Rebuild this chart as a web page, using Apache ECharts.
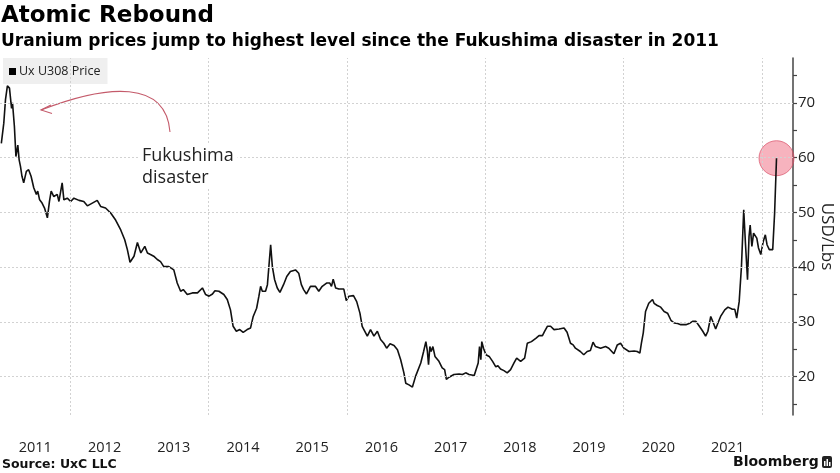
<!DOCTYPE html>
<html>
<head>
<meta charset="utf-8">
<script src="https://cdn.jsdelivr.net/npm/echarts@6/dist/echarts.min.js"></script>
<style>html,body{margin:0;padding:0;background:#fff}#c{width:840px;height:473px}</style>
</head>
<body>
<div id="c"></div>
<script>
// ---- data ----
const dates = [
'2011-01-04','2011-01-17','2011-01-26','2011-02-05','2011-02-16','2011-02-27','2011-03-04','2011-03-14','2011-03-22','2011-04-01',
'2011-04-08','2011-04-15','2011-04-23','2011-05-02','2011-05-16','2011-05-28','2011-06-10','2011-06-24','2011-07-08','2011-07-15',
'2011-07-25','2011-08-07','2011-08-20','2011-09-04','2011-09-15','2011-09-24','2011-10-08','2011-10-26','2011-11-04','2011-11-21',
'2011-11-30','2011-12-18','2012-01-05','2012-01-22','2012-02-18','2012-03-14','2012-04-02','2012-04-28','2012-05-24','2012-06-11',
'2012-07-07','2012-08-03','2012-08-29','2012-09-25','2012-10-16','2012-10-30','2012-11-13','2012-12-04','2012-12-22','2013-01-09',
'2013-01-30','2013-02-13','2013-03-01','2013-03-18','2013-04-06','2013-04-23','2013-05-10','2013-06-06','2013-07-02','2013-07-20',
'2013-08-07','2013-08-21','2013-09-11','2013-10-08','2013-11-04','2013-11-30','2013-12-05','2013-12-17','2014-01-04','2014-01-22',
'2014-02-04','2014-02-25','2014-03-23','2014-04-10','2014-04-27','2014-05-11','2014-05-28','2014-06-15','2014-07-03','2014-07-24',
'2014-08-11','2014-08-25','2014-09-12','2014-09-24','2014-10-03','2014-10-12','2014-10-29','2014-11-08','2014-11-25','2014-12-04',
'2014-12-16','2014-12-30','2015-01-13','2015-02-01','2015-02-18','2015-03-09','2015-04-05','2015-04-22','2015-05-06','2015-05-18',
'2015-06-02','2015-06-23','2015-07-19','2015-08-06','2015-08-24','2015-09-16','2015-10-03','2015-10-12','2015-10-21','2015-11-03',
'2015-11-20','2015-12-16','2015-12-29','2016-01-12','2016-02-05','2016-02-22','2016-03-10','2016-03-22','2016-04-01','2016-04-18',
'2016-05-05','2016-05-23','2016-06-10','2016-06-27','2016-07-14','2016-07-29','2016-08-16','2016-09-06','2016-09-24','2016-10-11',
'2016-10-28','2016-11-07','2016-11-24','2016-12-12','2016-12-29','2017-01-08','2017-01-25','2017-02-09','2017-02-21','2017-03-01',
'2017-03-07','2017-03-14','2017-03-21','2017-03-30','2017-04-10','2017-05-01','2017-05-18','2017-05-31','2017-06-09','2017-06-23',
'2017-07-19','2017-08-15','2017-09-02','2017-09-19','2017-10-07','2017-11-03','2017-11-12','2017-11-24','2017-12-01','2017-12-08',
'2017-12-13','2017-12-22','2018-01-04','2018-01-21','2018-02-08','2018-02-25','2018-03-08','2018-03-22','2018-04-09','2018-04-26',
'2018-05-14','2018-06-01','2018-06-15','2018-07-06','2018-07-27','2018-08-10','2018-09-01','2018-09-24','2018-10-11','2018-10-29',
'2018-11-10','2018-11-24','2018-12-11','2018-12-29','2019-01-25','2019-02-20','2019-03-08','2019-03-26','2019-04-09','2019-04-21',
'2019-05-17','2019-06-04','2019-06-22','2019-07-09','2019-07-23','2019-08-05','2019-09-01','2019-09-27','2019-10-14','2019-11-10',
'2019-11-28','2019-12-15','2020-01-02','2020-01-29','2020-02-25','2020-03-12','2020-03-26','2020-04-03','2020-04-13','2020-04-25',
'2020-05-12','2020-06-01','2020-06-09','2020-06-26','2020-07-14','2020-08-01','2020-08-19','2020-09-06','2020-09-23','2020-10-11',
'2020-10-28','2020-11-24','2020-12-11','2020-12-29','2021-01-16','2021-02-03','2021-02-21','2021-03-08','2021-03-20','2021-04-04',
'2021-04-18','2021-04-30','2021-05-12','2021-05-26','2021-06-17','2021-07-04','2021-07-27','2021-08-09','2021-08-19','2021-09-01',
'2021-09-13','2021-09-25','2021-10-04','2021-10-15','2021-10-23','2021-10-29','2021-11-07','2021-11-16','2021-11-24','2021-12-03',
'2021-12-12','2021-12-24','2022-01-06','2022-01-17','2022-01-26','2022-02-07','2022-02-25','2022-03-07','2022-03-17'
];
const prices = [
62.6,66.3,70.6,73.1,72.7,69.0,70.0,65.7,60.2,62.3,
59.6,58.4,56.6,55.4,57.5,57.8,56.6,54.5,53.3,53.9,
52.3,51.7,50.8,49.0,52.0,53.9,52.9,53.3,52.0,55.4,
52.3,52.6,52.0,52.6,52.2,52.0,51.2,51.7,52.2,51.1,
50.8,49.9,48.6,46.8,45.0,43.2,40.9,42.0,44.5,42.6,
43.8,42.6,42.3,42.0,41.4,41.0,40.1,40.1,39.5,37.1,
35.6,35.9,35.0,35.3,35.3,36.2,36.2,35.0,34.7,35.1,
35.7,35.6,35.0,34.1,32.2,29.2,28.3,28.6,28.1,28.6,
28.9,31.0,32.5,34.7,36.5,35.6,35.6,36.8,44.1,40.1,
37.7,36.2,35.4,36.8,38.3,39.2,39.5,38.9,36.8,35.9,
35.1,36.5,36.5,35.6,36.5,37.1,37.1,36.5,37.8,36.2,
36.0,36.0,33.9,34.7,34.8,33.7,31.6,29.2,29.5,27.4,
28.6,27.4,28.3,26.8,26.1,25.2,26.0,25.7,24.9,23.1,
20.7,18.8,18.5,18.1,20.1,20.1,22.5,24.6,26.4,24.6,
22.2,25.5,24.6,25.5,23.7,22.8,21.6,21.3,19.5,19.9,
20.4,20.5,20.4,20.7,20.4,20.2,20.1,22.5,25.5,23.1,
26.4,25.2,24.0,23.7,22.8,21.8,22.0,21.4,21.1,20.7,
21.3,22.5,23.4,22.8,23.4,26.1,26.4,27.0,27.5,27.5,
28.3,29.2,29.2,28.6,28.7,28.9,28.1,26.1,25.8,25.2,
24.6,24.0,24.6,24.8,26.3,25.5,25.2,25.5,25.2,24.2,
25.8,26.1,25.2,24.6,24.7,24.6,24.3,26.1,28.0,31.9,
33.4,34.1,33.4,33.0,32.7,31.9,31.6,30.3,29.8,29.7,
29.5,29.5,29.7,30.1,30.1,29.2,28.3,27.4,28.3,31.0,
29.8,28.7,29.8,31.0,32.2,32.7,32.3,32.3,30.7,33.7,
40.1,50.5,44.4,37.7,45.6,47.7,43.8,46.2,46.5,45.3,
43.5,42.3,44.7,45.9,44.1,43.2,43.2,49.9,59.9
];
const seriesName = 'Ux U308 Price';
const yearLabels = [2011,2012,2013,2014,2015,2016,2017,2018,2019,2020,2021];
const gridYears = [2012,2014,2016,2018,2020,2022];
const yLabelTicks = [20,30,40,50,60,70];
const yAllTicks = [15,20,25,30,35,40,45,50,55,60,65,70,75];

// ---- chart ----
const ts = s => { const p = s.split('-').map(Number); return new Date(p[0], p[1]-1, p[2]).getTime(); };
const lineData = dates.map((d, i) => [ts(d), prices[i]]);
const last = lineData[lineData.length - 1];

const chart = echarts.init(document.getElementById('c'));
const gridLineStyle = {color:'#d2d2d2', type:[2,2], width:1};

chart.setOption({
  animation:false,
  backgroundColor:'#fff',
  grid:{left:0, right:47, top:58, bottom:58, containLabel:false, outerBoundsMode:'none'},
  title:[
    {text:'Atomic Rebound', left:1, top:5, padding:0,
     textStyle:{fontFamily:'DejaVu Sans', fontWeight:'bold', fontSize:23, color:'#000'}},
    {text:'Uranium prices jump to highest level since the Fukushima disaster in 2011', left:1, top:33, padding:0,
     textStyle:{fontFamily:'DejaVu Sans', fontWeight:'bold', fontSize:17, color:'#000'}},
    {text:'Source: UxC LLC', left:2, top:458, padding:0,
     textStyle:{fontFamily:'DejaVu Sans', fontWeight:'bold', fontSize:12.5, color:'#111'}}
  ],
  legend:{
    data:[seriesName], left:3, top:58, backgroundColor:'#efefef',
    padding:[7,7,6,6], icon:'rect', itemWidth:7, itemHeight:7, itemGap:4,
    textStyle:{fontFamily:'Open Sans', fontSize:12.5, color:'#222', padding:[0,0,0,-2]}
  },
  xAxis:{
    type:'value',
    min:new Date(2010,11,28).getTime(),
    max:new Date(2022,5,12).getTime(),
    axisLine:{show:false}, axisTick:{show:false}, splitLine:{show:false},
    axisLabel:{
      customValues: yearLabels.map(y => new Date(y,6,2).getTime()),
      formatter: v => String(new Date(v).getFullYear()),
      margin:25, fontFamily:'Open Sans', fontSize:14.5, color:'#222'
    }
  },
  yAxis:{
    type:'value', position:'right', min:13.0, max:78.2,
    axisLine:{show:true, lineStyle:{color:'#444', width:1.5}},
    axisTick:{show:true, customValues:yAllTicks, length:4, lineStyle:{color:'#444', width:1.2}},
    axisLabel:{customValues:yLabelTicks, margin:5, fontFamily:'Open Sans', fontSize:15, color:'#222'},
    splitLine:{show:false},
    name:'USD/Lbs', nameLocation:'middle', nameRotate:-90, nameGap:25, nameMoveOverlap:false,
    nameTextStyle:{fontFamily:'Open Sans', fontSize:17, color:'#222'}
  },
  series:[
    {
      type:'scatter', data:[last], symbolSize:35, silent:true, z:1,
      itemStyle:{color:'rgba(238,90,115,0.58)', borderColor:'rgba(215,75,100,0.85)', borderWidth:1},
      markLine:{
        silent:true, symbol:['none','none'], label:{show:false},
        lineStyle:gridLineStyle, emphasis:{disabled:true},
        data: gridYears.map(y => ({xAxis:new Date(y,0,1).getTime()}))
              .concat(yLabelTicks.map(v => ({yAxis:v})))
      }
    },
    {
      name:seriesName, type:'line', data:lineData, symbol:'none', showSymbol:false, z:3,
      lineStyle:{color:'#111', width:1.6}, itemStyle:{color:'#000'}
    }
  ],
  graphic:[
    {type:'text', left:138, top:145, z:10, style:{text:'Fukushima\ndisaster', font:'18px "Open Sans"', fill:'#222', lineHeight:22, backgroundColor:'#fff', padding:[0,4,0,4]}},
    {type:'bezierCurve', shape:{x1:170,y1:132,x2:41,y2:110,cpx1:166,cpy1:80,cpx2:108,cpy2:84},
     style:{stroke:'#c45a6a', lineWidth:1.1, fill:null}},
    {type:'polyline', shape:{points:[[51,105],[41,110],[52,113.5]]}, style:{stroke:'#c45a6a', lineWidth:1.1, fill:null}},
    {type:'text', left:733, top:455, style:{text:'Bloomberg', font:'bold 14px "DejaVu Sans"', fill:'#111'}},
    {type:'group', left:822, top:456, children:[
      {type:'rect', shape:{x:0,y:0,width:10,height:12,r:2}, style:{fill:'#222'}},
      {type:'rect', shape:{x:2,y:5,width:1.5,height:5}, style:{fill:'#fff'}},
      {type:'rect', shape:{x:4.5,y:3,width:1.5,height:7}, style:{fill:'#fff'}},
      {type:'rect', shape:{x:7,y:6,width:1.5,height:4}, style:{fill:'#fff'}}
    ]}
  ]
});
</script>
</body>
</html>
